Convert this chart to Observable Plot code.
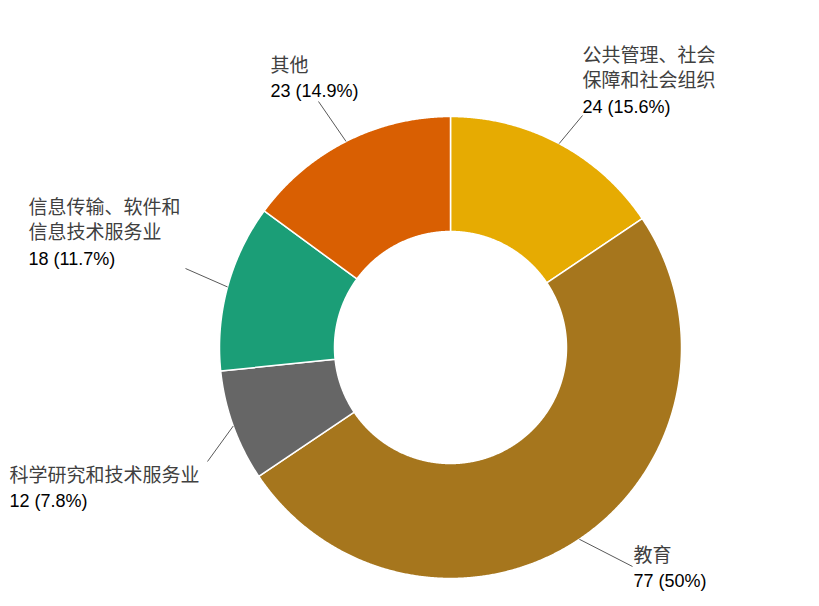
<!DOCTYPE html>
<html><head><meta charset="utf-8">
<script src="https://cdn.jsdelivr.net/npm/d3@7"></script>
<script src="https://cdn.jsdelivr.net/npm/@observablehq/plot@0.6"></script>
<style>body{margin:0;background:#fff}</style>
</head><body><div id="chart"></div>
<script>
// ---- data ----
const categories = ["公共管理、社会\n保障和社会组织", "教育", "科学研究和技术服务业", "信息传输、软件和\n信息技术服务业", "其他"];
const counts = [24, 77, 12, 18, 23];
const percentLabels = ["15.6%", "50%", "7.8%", "11.7%", "14.9%"];

// ---- styles / layout ----
const colors = ["#E6AB02", "#A6761D", "#666666", "#1B9E77", "#D95F02"];
const outerR = 231, innerR = 116;
const fontSize = 18, nameFontSize = 19, lineH = 25.5;
// first-line baseline of each label, relative to the donut centre (px)
const labelAt = [[132, -286], [183, 214], [-441, 134], [-422, -134], [-180, -276]];
// where each leader line ends
const leaderEnd = [[132, -232], [182, 219], [-243, 114], [-265, -79], [-132, -246]];

const arcs = d3.pie().sort(null).value(d => d)(counts);

const slicePts = [];
arcs.forEach((p, i) => {
  const n = Math.max(4, Math.ceil((p.endAngle - p.startAngle) / 0.005));
  for (let k = 0; k <= n; k++) {
    const a = p.startAngle + (p.endAngle - p.startAngle) * k / n;
    slicePts.push({cat: categories[i], x: outerR * Math.sin(a), y: -outerR * Math.cos(a)});
  }
  for (let k = n; k >= 0; k--) {
    const a = p.startAngle + (p.endAngle - p.startAngle) * k / n;
    slicePts.push({cat: categories[i], x: innerR * Math.sin(a), y: -innerR * Math.cos(a)});
  }
});

const labels = categories.map((c, i) => {
  const mid = (arcs[i].startAngle + arcs[i].endAngle) / 2;
  const nLines = c.split("\n").length;
  return {
    name: c,
    value: `${counts[i]} (${percentLabels[i]})`,
    x1: outerR * Math.sin(mid), y1: -outerR * Math.cos(mid),
    x2: leaderEnd[i][0], y2: leaderEnd[i][1],
    tx: labelAt[i][0],
    ny: labelAt[i][1] + (nLines - 1) * lineH,
    vy: labelAt[i][1] + nLines * lineH
  };
});

const chart = Plot.plot({
  width: 819,
  height: 606,
  margin: 0,
  style: {fontFamily: "'Liberation Sans', Arial, 'Noto Sans CJK SC', sans-serif", background: "#fff"},
  x: {domain: [-450, 369], range: [0, 819], axis: null},
  y: {domain: [-347, 259], range: [0, 606], axis: null},
  color: {domain: categories, range: colors},
  marks: [
    Plot.line(slicePts, {x: "x", y: "y", z: "cat", fill: "cat", stroke: "white", strokeWidth: 1.5, curve: "linear-closed"}),
    Plot.link(labels, {x1: "x1", y1: "y1", x2: "x2", y2: "y2", stroke: "#595959", strokeWidth: 1}),
    Plot.text(labels, {x: "tx", y: "ny", text: "name", textAnchor: "start", lineAnchor: "bottom", lineHeight: lineH / nameFontSize, fontSize: nameFontSize, fill: "#404040"}),
    Plot.text(labels, {x: "tx", y: "vy", text: "value", textAnchor: "start", lineAnchor: "bottom", fontSize, fill: "#000"})
  ]
});
document.getElementById("chart").appendChild(chart);
</script>
</body></html>
